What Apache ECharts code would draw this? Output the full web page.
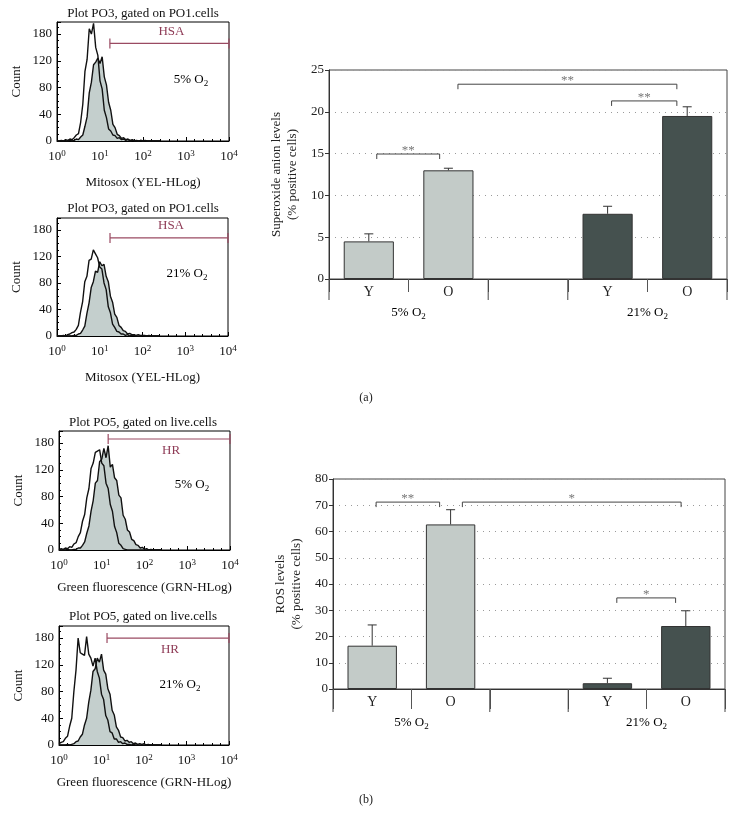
<!DOCTYPE html>
<html><head><meta charset="utf-8">
<script src="https://cdn.jsdelivr.net/npm/echarts@6/dist/echarts.min.js"></script>
<style>html,body{margin:0;padding:0;background:#fff}#c{width:736px;height:833px}</style>
</head><body><div id="c"></div>
<script>
// ---------- Histogram data (x = log10 channel, y = count in axis units) ----------
const histBins = [0.00,0.05,0.10,0.15,0.20,0.25,0.30,0.35,0.40,0.45,0.50,0.55,0.60,0.65,0.70,0.75,0.80,0.85,0.90,0.95,1.00,1.05,1.10,1.15,1.20,1.25,1.30,1.35,1.40,1.45,1.50,1.55,1.60,1.65,1.70,1.75,1.80,1.85,1.90,1.95,2.00,2.05,2.10,2.15,2.20,2.25,2.30,2.35,2.40];
const p1Open   = [0,0,1,0,2,1,3,2,5,9,11,28,55,104,122,168,160,176,140,128,90,78,46,35,18,15,9,8,4,5,2,3,1,2,0,1,1,0,0,1,0,0,0,0,0,0,0,0,0];
const p1Filled = [0,0,0,0,0,0,1,0,1,3,2,6,9,22,36,72,88,114,118,124,116,126,96,84,58,46,25,20,10,8,4,5,2,3,1,2,0,1,0,1,0,1,0,0,0,0,0,0,0];
const p2Open   = [0,0,0,1,0,2,3,5,6,10,16,36,52,82,90,114,116,130,124,118,104,101,80,70,44,35,18,13,7,6,3,3,1,2,0,1,1,0,0,0,1,0,0,0,0,0,0,0,0];
const p2Filled = [0,0,0,0,0,0,0,0,1,1,3,4,9,15,34,50,73,82,98,96,112,106,108,90,82,60,51,33,28,16,13,8,7,3,4,2,2,1,2,1,1,1,0,1,0,0,0,0,0];
const p3Open   = [0,2,1,3,2,5,4,9,11,20,26,43,53,78,92,122,130,146,148,150,130,126,100,92,68,58,35,26,10,7,2,1,0,0,0,0,0,0,0,0,0,0,0,0,0,0,0,0,0];
const p3Filled = [0,0,0,0,1,0,0,1,1,3,3,7,12,25,36,58,74,100,104,132,136,152,138,156,124,128,108,104,82,78,52,46,30,27,16,14,8,7,3,4,1,2,0,1,0,0,0,0,0];
const p4Open   = [2,4,5,10,13,28,40,80,112,160,138,136,134,162,136,130,118,130,110,100,76,68,44,37,20,18,9,9,4,5,2,3,1,1,0,1,0,0,0,0,0,0,0,0,0,0,0,0,0];
const p4Filled = [0,0,0,0,1,0,1,2,5,6,12,16,30,40,64,82,110,114,130,124,136,112,106,84,76,52,45,27,22,12,11,6,7,4,5,2,3,1,2,1,2,0,1,0,0,0,0,0,0];
const histOpen = [p1Open, p2Open, p3Open, p4Open];
const histFilled = [p1Filled, p2Filled, p3Filled, p4Filled];
const histTitles = ['Plot PO3, gated on PO1.cells','Plot PO3, gated on PO1.cells','Plot PO5, gated on live.cells','Plot PO5, gated on live.cells'];
const histXNames = ['Mitosox (YEL-HLog)','Mitosox (YEL-HLog)','Green fluorescence (GRN-HLog)','Green fluorescence (GRN-HLog)'];
const histXExponents = ['0','1','2','3','4'];
const histYLabels = ['0','40','80','120','180'];
const histConditions = ['5','21','5','21'];
const gateNames = ['HSA','HSA','HR','HR'];
const gateStarts = [1.23, 1.24, 1.15, 1.13];
const gateEnd = 4;
const gateLevels = [146, 148, 166, 160];
const gateLabelSide = [-1, -1, 1, 1];

// ---------- Bar chart data ----------
const barCats = ['Y','O','','Y','O'];
const barGroup = ['5% O2','5% O2','','21% O2','21% O2'];
const superoxide = [4.5, 13.0, null, 7.8, 19.5];
const superoxideErr = [0.9, 0.25, null, 0.9, 1.1];
const ros = [16.5, 62.7, null, 2.2, 24.0];
const rosErr = [7.9, 5.6, null, 1.9, 5.8];
// brackets: [from, to (category positions), level, stars]
const sigA = [[0.10, 0.89, 14.95, '**'], [1.12, 3.87, 23.3, '**'], [3.05, 3.87, 21.3, '**']];
const sigB = [[0.05, 0.86, 71.2, '**'], [1.15, 3.94, 71.2, '*'], [3.12, 3.87, 34.7, '*']];
// groups: [startBoundary, endBoundary, label]
const groups = [[0, 2, '5'], [3, 5, '21']];

const FONT = "'Liberation Serif','Times New Roman',serif";
const LIGHT = '#c3cbc8', DARK = '#45514f', EDGE = '#333';
const chart = echarts.init(document.getElementById('c'));

const histGrids = [
  {left:57, top:22, width:172, height:119},
  {left:57, top:218, width:171, height:118},
  {left:59, top:431, width:171, height:119},
  {left:59, top:626, width:170, height:119}
];
const grids = histGrids.map(g => Object.assign({show:true, borderColor:'#000', borderWidth:1, backgroundColor:'transparent'}, g));
grids.push({left:329, top:70, width:398, height:209, show:true, borderColor:'#444', borderWidth:1});
grids.push({left:333, top:479, width:392, height:210, show:true, borderColor:'#444', borderWidth:1});

const supRich = {b:{fontSize:13, fontFamily:FONT, color:'#111', lineHeight:16}, s:{fontSize:9, fontFamily:FONT, color:'#111', lineHeight:9, verticalAlign:'top'}};
const subRich = {t:{fontSize:13, fontFamily:FONT, color:'#111', lineHeight:16}, u:{fontSize:9, fontFamily:FONT, color:'#111', lineHeight:9, verticalAlign:'bottom'}};

const xAxes = [], yAxes = [], series = [];
histGrids.forEach((g, i) => {
  xAxes.push({
    gridIndex:i, type:'value', min:0, max:4, interval:1,
    axisLine:{lineStyle:{color:'#000', width:1}},
    axisTick:{inside:true, length:4, lineStyle:{color:'#000'}},
    minorTick:{show:true, splitNumber:5, length:2, lineStyle:{color:'#000'}},
    splitLine:{show:false},
    axisLabel:{margin:8, formatter:v => '{b|10}{s|' + histXExponents[v] + '}', rich:supRich},
    name:histXNames[i], nameLocation:'middle', nameGap:i < 2 ? 35 : 31,
    nameTextStyle:{fontFamily:FONT, fontSize:13, color:'#111'}
  });
  yAxes.push({
    gridIndex:i, type:'value', min:0, max:178, interval:40,
    axisLine:{show:true, lineStyle:{color:'#000'}},
    axisTick:{inside:true, length:4, lineStyle:{color:'#000'}},
    minorTick:{show:true, splitNumber:4, length:2, lineStyle:{color:'#000'}},
    splitLine:{show:false},
    axisLabel:{fontFamily:FONT, fontSize:13, color:'#111', margin:5,
      formatter:v => (histYLabels[v/40] !== undefined ? histYLabels[v/40] : '')},
    name:'Count', nameLocation:'middle', nameRotate:90, nameGap:34,
    nameTextStyle:{fontFamily:FONT, fontSize:13, color:'#111'}
  });
  series.push({
    type:'line', xAxisIndex:i, yAxisIndex:i, showSymbol:false, silent:true, z:2,
    data:histBins.map((b, k) => [b, histFilled[i][k]]),
    lineStyle:{color:'#111', width:1.4}, areaStyle:{color:'#c4cfcd', opacity:1}
  });
  series.push({
    type:'line', xAxisIndex:i, yAxisIndex:i, showSymbol:false, silent:true, z:3,
    data:histBins.map((b, k) => [b, histOpen[i][k]]),
    lineStyle:{color:'#111', width:1.4}
  });
  series.push({
    type:'custom', xAxisIndex:i, yAxisIndex:i, silent:true, z:4,
    data:[[gateStarts[i], gateLevels[i], gateEnd]],
    renderItem:(params, api) => {
      const a = api.coord([api.value(0), api.value(1)]);
      const b = api.coord([api.value(2), api.value(1)]);
      const col = '#9a4a62';
      return {type:'group', children:[
        {type:'line', shape:{x1:a[0], y1:a[1], x2:b[0], y2:b[1]}, style:{stroke:col, lineWidth:1.2}},
        {type:'line', shape:{x1:a[0], y1:a[1]-5, x2:a[0], y2:a[1]+5}, style:{stroke:col, lineWidth:1.2}},
        {type:'line', shape:{x1:b[0], y1:b[1]-5, x2:b[0], y2:b[1]+5}, style:{stroke:col, lineWidth:1.2}},
        {type:'text', style:{text:gateNames[i], x:(a[0]+b[0])/2 + 2, y:a[1] + gateLabelSide[i]*12,
          align:'center', verticalAlign:'middle', font:'13px ' + FONT, fill:'#8e3b56'}}
      ]};
    }
  });
});

function barPanel(gi, values, errs, sigs, yMax, yInt, yName, nameGap, shortTick, longTick, groupLabelOff) {
  xAxes.push({
    gridIndex:gi, type:'category', data:barCats, boundaryGap:true,
    axisLine:{lineStyle:{color:EDGE}},
    axisTick:{show:true, interval:0, length:shortTick, lineStyle:{color:'#555'}},
    axisLabel:{fontFamily:FONT, fontSize:14, color:'#222', margin:6, interval:0}
  });
  yAxes.push({
    gridIndex:gi, type:'value', min:0, max:yMax, interval:yInt,
    axisLine:{show:true, lineStyle:{color:EDGE}},
    axisTick:{show:true, length:4, lineStyle:{color:EDGE}},
    splitLine:{show:true, lineStyle:{color:'#9a9a9a', type:[1,5], width:1}},
    axisLabel:{fontFamily:FONT, fontSize:13, color:'#222', margin:5},
    name:yName, nameLocation:'middle', nameRotate:90, nameGap:nameGap,
    nameTextStyle:{fontFamily:FONT, fontSize:13, color:'#222', lineHeight:16}
  });
  series.push({
    type:'bar', xAxisIndex:gi, yAxisIndex:gi, barWidth:'63%', silent:true, z:3,
    data:values.map((v, k) => v === null ? '-' : {value:v, itemStyle:{color: barGroup[k] === '5% O2' ? LIGHT : DARK}}),
    itemStyle:{borderColor:EDGE, borderWidth:1}
  });
  series.push({
    type:'custom', xAxisIndex:gi, yAxisIndex:gi, silent:true, z:4,
    data:values.map((v, k) => v === null ? null : [k, v, errs[k]]).filter(d => d),
    renderItem:(params, api) => {
      const b = api.coord([api.value(0), api.value(1)]);
      const t = api.coord([api.value(0), api.value(1) + api.value(2)]);
      return {type:'group', children:[
        {type:'line', shape:{x1:b[0], y1:b[1], x2:t[0], y2:t[1]}, style:{stroke:EDGE, lineWidth:1}},
        {type:'line', shape:{x1:t[0]-4.5, y1:t[1], x2:t[0]+4.5, y2:t[1]}, style:{stroke:EDGE, lineWidth:1}}
      ]};
    }
  });
  series.push({
    type:'custom', xAxisIndex:gi, yAxisIndex:gi, silent:true, z:5,
    data:sigs.map(s => [s[0], s[2], s[1]]),
    renderItem:(params, api) => {
      const s = sigs[params.dataIndex];
      const c0 = api.coord([0, s[2]]);
      const band = api.size([1, 0])[0];
      const x1 = c0[0] + s[0]*band, x2 = c0[0] + s[1]*band, y = c0[1];
      return {type:'group', children:[
        {type:'line', shape:{x1:x1, y1:y, x2:x2, y2:y}, style:{stroke:'#444', lineWidth:1}},
        {type:'line', shape:{x1:x1, y1:y, x2:x1, y2:y+5}, style:{stroke:'#444', lineWidth:1}},
        {type:'line', shape:{x1:x2, y1:y, x2:x2, y2:y+5}, style:{stroke:'#444', lineWidth:1}},
        {type:'text', style:{text:s[3], x:(x1+x2)/2, y:y+3, align:'center', verticalAlign:'bottom', font:'13px ' + FONT, fill:'#777'}}
      ]};
    }
  });
  series.push({
    type:'custom', xAxisIndex:gi, yAxisIndex:gi, silent:true, z:5, clip:false,
    data:groups.map(g => [g[0], 0, g[1]]),
    renderItem:(params, api) => {
      const g = groups[params.dataIndex];
      const c0 = api.coord([0, 0]);
      const band = api.size([1, 0])[0];
      const left = c0[0] - band/2;
      const xs = left + g[0]*band, xe = left + g[1]*band, y0 = c0[1];
      return {type:'group', children:[
        {type:'line', shape:{x1:xs, y1:y0, x2:xs, y2:y0+longTick}, style:{stroke:'#444', lineWidth:1}},
        {type:'line', shape:{x1:xe, y1:y0, x2:xe, y2:y0+longTick}, style:{stroke:'#444', lineWidth:1}},
        {type:'text', style:{text:'{t|' + g[2] + '% O}{u|2}', rich:subRich, x:(xs+xe)/2, y:y0+groupLabelOff, align:'center', verticalAlign:'middle'}}
      ]};
    }
  });
}
barPanel(4, superoxide, superoxideErr, sigA, 25, 5, 'Superoxide anion levels\n(% positive cells)', 27, 13, 21, 34);
barPanel(5, ros, rosErr, sigB, 80, 10, 'ROS levels\n(% positive cells)', 27, 20, 23, 34);

const graphics = [];
const titleY = [14, 209, 423, 617];
histTitles.forEach((t, i) => graphics.push({type:'text', x:143, y:titleY[i], style:{text:t, font:'13px ' + FONT, fill:'#111', align:'center', verticalAlign:'middle'}}));
const condPos = [[191, 80], [187, 274], [192, 485], [180, 685]];
histConditions.forEach((c, i) => graphics.push({type:'text', x:condPos[i][0], y:condPos[i][1],
  style:{text:'{t|' + c + '% O}{u|2}', rich:subRich, align:'center', verticalAlign:'middle'}}));
graphics.push({type:'text', x:366, y:398, style:{text:'(a)', font:'12px ' + FONT, fill:'#222', align:'center', verticalAlign:'middle'}});
graphics.push({type:'text', x:366, y:800, style:{text:'(b)', font:'12px ' + FONT, fill:'#222', align:'center', verticalAlign:'middle'}});

chart.setOption({
  backgroundColor:'#fff',
  animation:false,
  textStyle:{fontFamily:FONT},
  grid:grids, xAxis:xAxes, yAxis:yAxes, series:series, graphic:graphics
});
</script></body></html>
